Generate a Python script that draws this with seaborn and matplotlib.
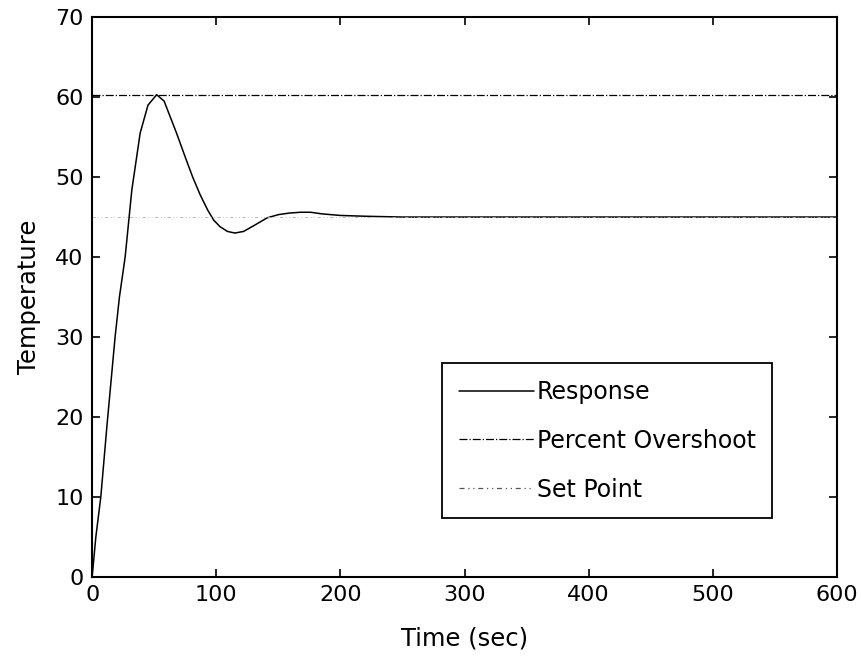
import matplotlib
matplotlib.use("Agg")
import matplotlib.pyplot as plt
import pandas as pd
import seaborn as sns

# values
time_sec = [0, 3, 7, 12, 18.5, 22, 26.6, 32, 38.7, 45, 52, 58, 63, 68, 75, 81, 87,
            93, 98, 103, 109, 115, 122, 130, 141, 150, 159, 168, 176, 185, 200,
            220, 250, 300, 350, 400, 450, 500, 550, 600]
response = [0, 5, 10, 19, 30, 35, 40, 48.4, 55.5, 59, 60.3, 59.5, 57.5, 55.5, 52.5,
            50, 47.8, 45.9, 44.6, 43.8, 43.2, 43.0, 43.2, 43.9, 44.9, 45.3, 45.5,
            45.6, 45.6, 45.4, 45.2, 45.1, 45.0, 45.0, 45.0, 45.0, 45.0, 45.0, 45.0, 45.0]
limit_time = [0, 600]
overshoot = [60.3, 60.3]
set_point = [45, 45]

x_ticks = [0, 100, 200, 300, 400, 500, 600]
y_ticks = [0, 10, 20, 30, 40, 50, 60, 70]

sns.set_style("ticks")
plt.rcParams["font.family"] = ["DejaVu Sans"]
plt.rcParams["text.color"] = "black"
plt.rcParams["axes.labelcolor"] = "black"

resp_df = pd.DataFrame({"Time": time_sec, "Temperature": response})
over_df = pd.DataFrame({"Time": limit_time, "Temperature": overshoot})
set_df = pd.DataFrame({"Time": limit_time, "Temperature": set_point})

fig = plt.figure(figsize=(8.61, 6.6), dpi=100)
ax = fig.add_axes([0.107, 0.126, 0.865, 0.848])

sns.lineplot(data=resp_df, x="Time", y="Temperature", ax=ax, color="black",
             linewidth=1.1, label="Response", estimator=None, sort=False)
sns.lineplot(data=over_df, x="Time", y="Temperature", ax=ax, color="black",
             linewidth=0.9, linestyle="-.", label="Percent Overshoot", estimator=None)
# the set point trace is very faint in the scan
sns.lineplot(data=set_df, x="Time", y="Temperature", ax=ax, color="#b0b0b0",
             linewidth=0.6, linestyle=(0, (4, 3, 1, 3, 1, 3)), label="Set Point", estimator=None)

ax.set_xlim(0, 600)
ax.set_ylim(0, 70)
ax.set_xticks(x_ticks)
ax.set_yticks(y_ticks)
ax.tick_params(direction="in", top=True, right=True, length=6, width=1.2,
               labelsize=16, colors="black", pad=6)
for s in ax.spines.values():
    s.set_visible(True)
    s.set_linewidth(1.5)
    s.set_color("black")

ax.set_xlabel("Time (sec)", fontsize=17.5, labelpad=15)
ax.set_ylabel("Temperature", fontsize=17.5, labelpad=10)

leg = ax.legend(loc="lower right", bbox_to_anchor=(0.913, 0.105), fontsize=17,
                frameon=True, fancybox=False, framealpha=1, edgecolor="black",
                handlelength=3.2, handletextpad=0.1, labelspacing=1.05,
                borderpad=0.7, borderaxespad=0)
leg.get_frame().set_linewidth(1.3)
leg.get_lines()[2].set_color("#555555")
leg.get_lines()[2].set_linewidth(0.9)

fig.savefig("out.png", dpi=100)
